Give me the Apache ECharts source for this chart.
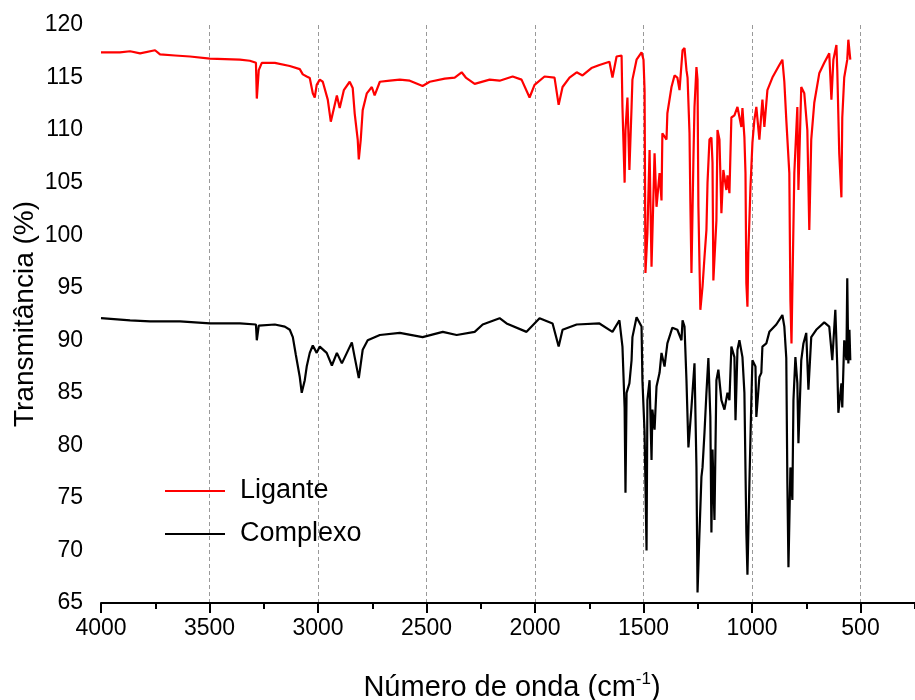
<!DOCTYPE html>
<html>
<head>
<meta charset="utf-8">
<script src="https://cdn.jsdelivr.net/npm/echarts@6/dist/echarts.min.js"></script>
<style>
html,body{margin:0;padding:0;background:#fff;}
#chart{width:915px;height:700px;}
</style>
</head>
<body>
<div id="chart"></div>
<script>
// Ligante (red) — wavenumber (cm-1) and transmittance (%)
const ligWn = [4000,3913,3866,3820,3751,3728,3659,3590,3498,3360,3314,3286,3282,3273,3259,3199,3130,3084,3070,3052,3038,3024,3015,3006,2992,2978,2955,2941,2932,2913,2900,2881,2854,2840,2831,2817,2812,2803,2794,2775,2752,2739,2715,2669,2623,2577,2518,2485,2416,2370,2338,2319,2278,2209,2163,2103,2062,2025,2002,1956,1910,1891,1873,1841,1808,1781,1740,1703,1657,1643,1624,1601,1597,1587,1583,1574,1565,1555,1551,1532,1509,1500,1495,1491,1482,1472,1463,1459,1449,1440,1426,1417,1413,1394,1390,1371,1357,1344,1334,1320,1311,1302,1297,1288,1284,1279,1270,1265,1256,1251,1247,1238,1228,1219,1210,1205,1196,1187,1182,1178,1164,1159,1150,1141,1132,1118,1113,1104,1095,1081,1067,1049,1044,1035,1030,1026,1021,1017,1007,998,989,980,966,952,943,929,906,874,860,851,842,828,823,818,814,805,791,786,773,759,745,736,727,713,690,667,644,634,625,611,607,598,588,584,575,561,556,547];
const ligT = [117.4,117.4,117.5,117.3,117.6,117.2,117.1,117.0,116.8,116.7,116.6,116.4,113.0,115.7,116.4,116.4,116.1,115.8,115.3,115.1,114.95,113.5,113.1,114.3,114.8,114.6,112.9,110.8,110.7,113.3,112.1,113.8,114.6,114.0,111.6,109.1,107.2,109.1,111.9,113.5,114.1,113.3,114.6,114.7,114.8,114.7,114.2,114.6,114.9,115.0,115.5,115.0,114.4,114.8,114.7,115.1,114.8,113.1,114.3,115.1,115.0,112.4,114.1,115.0,115.5,115.2,115.9,116.2,116.5,115.0,117.0,117.1,112.2,105.0,110.0,113.1,106.2,112.2,114.8,116.7,117.4,116.7,113.8,96.4,100.2,108.1,97.0,97.0,107.8,102.7,105.9,103.3,109.7,109.1,111.6,114.1,115.2,115.0,113.8,117.6,117.8,115.7,115.0,109.7,103.1,96.4,107.2,112.2,116.0,114.8,102.7,92.9,95.1,97.9,100.5,105.0,109.1,109.3,106.9,95.7,101.4,110.0,109.1,102.1,106.2,104.3,105.7,104.0,111.2,111.4,112.2,110.3,112.1,109.3,105.9,95.4,93.2,98.3,104.6,108.8,111.0,112.2,109.1,112.9,110.3,113.8,115.0,116.2,116.7,114.6,111.0,105.9,93.8,89.7,94.8,105.9,112.2,104.3,114.1,113.5,110.0,100.5,109.1,112.6,115.4,116.4,117.3,112.9,116.7,118.1,115.7,107.8,103.6,111.2,115.0,116.7,118.6,116.7];

// Complexo (black)
const cmpWn = [4000,3866,3774,3636,3498,3360,3286,3282,3273,3199,3153,3130,3116,3102,3084,3075,3061,3052,3038,3024,3006,2992,2960,2936,2913,2890,2867,2844,2831,2812,2794,2771,2715,2623,2518,2425,2361,2278,2241,2163,2131,2039,1979,1919,1891,1873,1808,1703,1643,1611,1597,1587,1583,1578,1565,1555,1551,1532,1509,1505,1495,1486,1482,1472,1463,1459,1449,1440,1426,1417,1403,1390,1367,1344,1325,1320,1311,1302,1293,1279,1265,1256,1251,1242,1233,1228,1219,1210,1201,1192,1187,1182,1173,1164,1155,1141,1127,1113,1104,1095,1081,1076,1067,1058,1044,1035,1026,1021,1012,1003,998,984,980,966,957,952,934,920,888,860,851,842,837,832,823,814,809,800,791,786,773,763,750,740,727,704,667,644,630,616,607,602,588,584,575,565,561,556,551,547];
const cmpT = [92.1,91.9,91.8,91.8,91.6,91.6,91.5,90.0,91.4,91.5,91.3,91.0,90.3,88.6,86.5,85.0,86.2,87.5,88.8,89.5,88.8,89.4,88.8,87.6,88.8,87.8,88.8,89.8,88.4,86.4,89.1,90.0,90.5,90.7,90.3,90.8,90.5,90.8,91.5,92.1,91.6,90.8,92.1,91.6,89.4,91.0,91.5,91.6,90.8,91.9,89.4,83.6,75.5,85.0,85.9,88.1,90.3,92.2,91.3,86.2,81.2,70.0,84.3,86.2,78.6,83.4,81.5,85.6,86.9,88.8,87.5,89.7,91.2,91.0,90.0,91.9,91.3,86.2,79.8,83.6,87.8,77.9,66.0,71.7,77.0,77.9,81.2,85.0,88.3,82.7,71.7,79.6,72.9,86.2,87.2,84.3,83.4,85.0,84.3,89.4,88.4,82.4,89.1,90.0,88.4,85.0,71.7,67.7,76.4,84.3,88.1,87.5,82.7,86.5,86.9,89.4,89.7,90.8,91.5,92.4,91.3,88.3,76.4,68.4,77.9,74.8,84.3,88.4,85.9,80.2,88.1,89.7,90.7,85.3,90.3,91.0,91.7,91.3,88.1,92.9,87.5,83.1,85.9,83.6,90.0,88.1,95.9,87.8,91.0,88.1];

const seriesNames = ['Ligante', 'Complexo'];
const xTitle = 'Número de onda (cm';
const yTitle = 'Transmitância (%)';

const zip = (a, b) => a.map((v, i) => [v, b[i]]);
const FONT = '"Liberation Sans", Arial, sans-serif';

const chart = echarts.init(document.getElementById('chart'));
chart.setOption({
  animation: false,
  backgroundColor: '#ffffff',
  textStyle: { fontFamily: FONT },
  grid: { left: 101, right: -54, top: 25, bottom: 97, containLabel: false, outerBoundsMode: 'none' },
  legend: {
    orient: 'vertical',
    left: 165,
    top: 476,
    padding: 0,
    icon: 'rect',
    itemWidth: 60,
    itemHeight: 2,
    itemGap: 13,
    data: seriesNames,
    textStyle: { fontSize: 27, color: '#000', fontFamily: FONT, lineHeight: 30, padding: [0, 0, 0, 10] }
  },
  xAxis: {
    type: 'value',
    inverse: true,
    min: 0,
    max: 4000,
    interval: 500,
    name: '{a|' + xTitle + '}{s|-1}{a|)}',
    nameLocation: 'middle',
    nameGap: 68,
    nameTextStyle: {
      padding: [0, 46, 0, 0],
      rich: {
        a: { fontSize: 29, color: '#000', fontFamily: FONT, verticalAlign: 'bottom', lineHeight: 31 },
        s: { fontSize: 17, color: '#000', fontFamily: FONT, verticalAlign: 'top', lineHeight: 17 }
      }
    },
    axisLine: { show: true, onZero: false, lineStyle: { color: '#000', width: 2 } },
    axisTick: { show: true, length: 10, lineStyle: { color: '#000', width: 2 } },
    minorTick: { show: true, splitNumber: 2, length: 6, lineStyle: { color: '#000', width: 2 } },
    axisLabel: {
      fontSize: 23, color: '#000', fontFamily: FONT, margin: 14,
      formatter: v => (v === 0 ? '' : String(v))
    },
    splitLine: { show: true, showMaxLine: false, lineStyle: { color: '#999', width: 1, type: [4, 3] } }
  },
  yAxis: {
    type: 'value',
    min: 65,
    max: 120,
    interval: 5,
    name: yTitle,
    nameLocation: 'middle',
    nameGap: 62,
    nameMoveOverlap: false,
    nameRotate: 90,
    nameTextStyle: { fontSize: 28, color: '#000', fontFamily: FONT },
    axisLine: { show: true, lineStyle: { color: '#000', width: 2 } },
    axisTick: { show: true, length: 10, lineStyle: { color: '#000', width: 2 } },
    minorTick: { show: true, splitNumber: 2, length: 6, lineStyle: { color: '#000', width: 2 } },
    axisLabel: { fontSize: 23, color: '#000', fontFamily: FONT, margin: 18 },
    splitLine: { show: false }
  },
  series: [
    {
      name: seriesNames[0], type: 'line', data: zip(ligWn, ligT),
      symbol: 'none', z: 3,
      lineStyle: { color: '#ff0000', width: 2.2 }, itemStyle: { color: '#ff0000' }
    },
    {
      name: seriesNames[1], type: 'line', data: zip(cmpWn, cmpT),
      symbol: 'none', z: 2,
      lineStyle: { color: '#000000', width: 2.2 }, itemStyle: { color: '#000000' }
    }
  ]
});
</script>
</body>
</html>
